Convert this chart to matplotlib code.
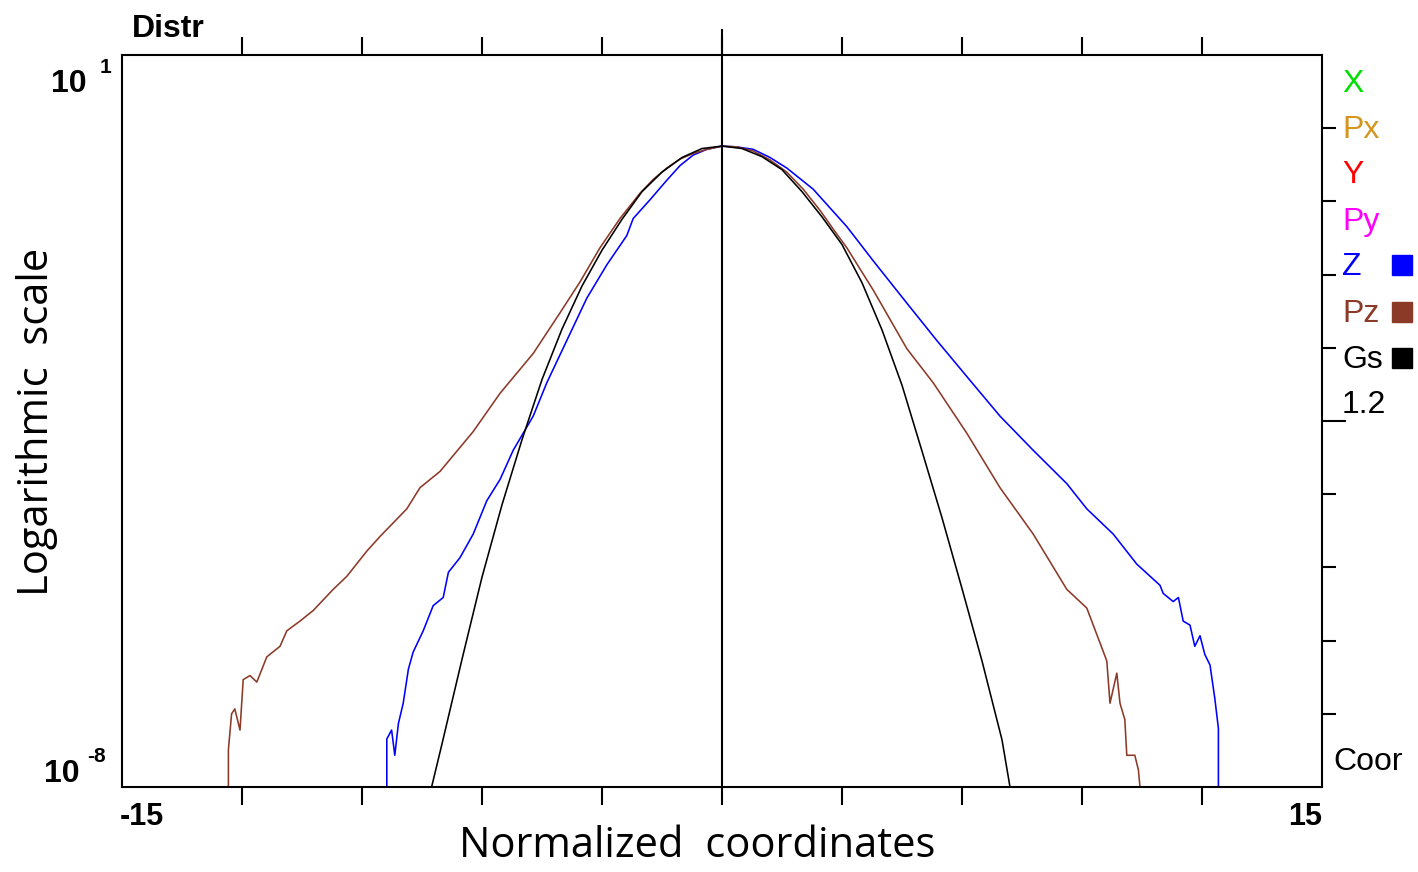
import matplotlib
matplotlib.use("Agg")
import matplotlib.pyplot as plt
import numpy as np
from matplotlib.patches import Rectangle
from matplotlib.ticker import FixedLocator, NullFormatter

W, H = 1418, 872

# Z (blue): normalized coordinate and log10 of distribution
z_x = [-8.38, -8.38, -8.26, -8.18, -8.09, -7.97, -7.84, -7.72, -7.47, -7.22,
       -6.97, -6.84, -6.55, -6.22, -5.88, -5.55, -5.22, -4.72, -4.38, -3.88,
       -3.38, -2.88, -2.38, -2.22, -1.8, -1.38, -1.05, -0.72, -0.38, 0.0,
       0.37, 0.78, 1.2, 1.62, 1.95, 2.28, 2.7,
       3.12, 3.78, 4.62, 5.37, 6.2, 6.95, 7.78, 8.62, 9.12, 9.78,
       10.37, 10.95, 11.03, 11.28, 11.41, 11.53, 11.7, 11.82, 11.95, 12.07,
       12.2, 12.32, 12.41, 12.41]
z_log = [-8.0, -7.41, -7.30, -7.61, -7.22, -6.97, -6.55, -6.34, -6.08, -5.77,
         -5.67, -5.36, -5.18, -4.89, -4.48, -4.22, -3.86, -3.44, -3.03, -2.51,
         -1.99, -1.58, -1.22, -1.01, -0.78, -0.54, -0.36, -0.23, -0.16, -0.12,
         -0.13, -0.16, -0.26, -0.39, -0.52, -0.65, -0.88,
         -1.11, -1.53, -2.05, -2.51, -3.00, -3.44, -3.86, -4.27, -4.58, -4.89,
         -5.26, -5.52, -5.62, -5.72, -5.67, -5.96, -6.01, -6.27, -6.14, -6.37,
         -6.50, -6.91, -7.28, -8.0]

# Pz (brown)
pz_x = [-12.34, -12.34, -12.26, -12.18, -12.05, -11.97, -11.8, -11.63, -11.38, -11.05,
        -10.88, -10.55, -10.22, -9.72, -9.38, -8.88, -8.55, -7.88, -7.55, -7.05,
        -6.22, -5.55, -4.72, -4.05, -3.55, -3.05, -2.55, -2.05, -1.72, -1.38,
        -1.05, -0.72, -0.38, 0.0, 0.37, 0.78, 1.2, 1.62, 2.03, 2.45, 2.78,
        3.12, 3.78, 4.62, 5.28, 6.12, 6.95,
        7.78, 8.62, 9.12, 9.62, 9.7, 9.87, 9.95, 10.07, 10.12, 10.32,
        10.41, 10.45]
pz_log = [-8.0, -7.54, -7.10, -7.04, -7.30, -6.68, -6.63, -6.71, -6.40, -6.27,
          -6.08, -5.96, -5.83, -5.57, -5.41, -5.10, -4.92, -4.58, -4.32, -4.12,
          -3.63, -3.16, -2.67, -2.17, -1.79, -1.37, -1.01, -0.70, -0.53, -0.39,
          -0.28, -0.21, -0.16, -0.12, -0.13, -0.18, -0.29, -0.44, -0.65, -0.91, -1.14,
          -1.37, -1.89, -2.61, -3.03, -3.65, -4.32,
          -4.89, -5.57, -5.80, -6.45, -6.97, -6.60, -6.97, -7.17, -7.61, -7.61,
          -7.79, -8.0]

# Gs (black), gaussian reference
gs_x = [-7.26, -7.0, -6.5, -6.0, -5.5, -5.0, -4.5, -4.0, -3.5, -3.0,
        -2.5, -2.0, -1.5, -1.0, -0.5, 0.0, 0.5, 1.0, 1.5, 2.0,
        2.5, 3.0, 3.5, 4.0, 4.5, 5.0, 5.5, 6.0, 6.5, 7.0, 7.2]
gs_log = [-8.0, -7.47, -6.43, -5.42, -4.53, -3.73, -2.99, -2.37, -1.84, -1.40,
          -1.02, -0.68, -0.44, -0.26, -0.15, -0.12, -0.15, -0.25, -0.41, -0.68,
          -0.99, -1.33, -1.80, -2.38, -3.06, -3.87, -4.69, -5.56, -6.45, -7.42, -8.0]

legend_names = ["X", "Px", "Y", "Py", "Z", "Pz", "Gs"]
legend_colors = ["#00e000", "#d4961e", "#ff0000", "#ff00ff", "#0000ff", "#8c3a28", "#000000"]
legend_shown = [False, False, False, False, True, True, True]
sigma_label = "1.2"

x_ticks = [-12, -9, -6, -3, 0, 3, 6, 9, 12]
y_ticks = [10 ** (1 - 0.9 * k) for k in (1, 2, 3, 4, 6, 7, 8, 9)]
y_long_tick = [10 ** -3.5]


def fx(px):
    return px / W


def fy(py):
    return 1 - py / H


fig = plt.figure(figsize=(W / 100, H / 100), dpi=100)
ax = fig.add_axes([fx(122), fy(787), (1322 - 122) / W, (787 - 55) / H])

ax.plot(z_x, 10 ** np.array(z_log), color=legend_colors[4], lw=1.15)
ax.plot(pz_x, 10 ** np.array(pz_log), color=legend_colors[5], lw=1.15)
ax.plot(gs_x, 10 ** np.array(gs_log), color=legend_colors[6], lw=1.15)

ax.set_yscale("log")
ax.set_xlim(-15, 15)
ax.set_ylim(1e-8, 1e1)

# centre line, sticks out above the frame
ax.plot([0, 0], [0, 1.034], transform=ax.get_xaxis_transform(),
        color="black", lw=1.5, clip_on=False)

for s in ax.spines.values():
    s.set_linewidth(1.5)

ax.set_xticks(x_ticks)
ax.tick_params(axis="x", top=True, bottom=True, direction="out",
               length=13, width=1.5, labelbottom=False)
ax.yaxis.set_ticks_position("right")
ax.yaxis.set_major_locator(FixedLocator(y_ticks))
ax.yaxis.set_minor_locator(FixedLocator(y_long_tick))
ax.yaxis.set_major_formatter(NullFormatter())
ax.yaxis.set_minor_formatter(NullFormatter())
ax.tick_params(axis="y", which="major", direction="out", length=10, width=1.5)
ax.tick_params(axis="y", which="minor", direction="out", length=17, width=1.5)

prog = "Liberation Sans"
fig.text(fx(132), fy(37), "Distr", fontsize=23, fontweight="bold", family=prog, va="baseline")
fig.text(fx(51), fy(92), "10", fontsize=23, fontweight="bold", family=prog, va="baseline")
fig.text(fx(100), fy(73), "1", fontsize=15, fontweight="bold", family=prog, va="baseline")
fig.text(fx(44), fy(782), "10", fontsize=23, fontweight="bold", family=prog, va="baseline")
fig.text(fx(87), fy(762), "-8", fontsize=15, fontweight="bold", family=prog, va="baseline")
fig.text(fx(120), fy(825), "-15", fontsize=22, fontweight="bold", family=prog, va="baseline")
fig.text(fx(1322), fy(825), "15", fontsize=22, fontweight="bold", family=prog,
         va="baseline", ha="right")
fig.text(fx(1333), fy(770), "Coor", fontsize=23, family=prog, va="baseline")

baselines = [92, 138, 183, 230, 275, 322, 368]
for name, col, shown, b in zip(legend_names, legend_colors, legend_shown, baselines):
    fig.text(fx(1342), fy(b), name, fontsize=23, color=col, family=prog, va="baseline")
    if shown:
        fig.patches.append(Rectangle((fx(1392), fy(b)), 20 / W, 20 / H,
                                     transform=fig.transFigure, color=col))
fig.text(fx(1342), fy(413), sigma_label, fontsize=23, family=prog, va="baseline")

fig.text(fx(37), fy(422), "Logarithmic  scale", fontsize=30, family="Open Sans",
         rotation=90, ha="center", va="center")
fig.text(fx(697), fy(857), "Normalized  coordinates", fontsize=30, family="Open Sans",
         ha="center", va="baseline")

fig.savefig("out.png", dpi=100)
